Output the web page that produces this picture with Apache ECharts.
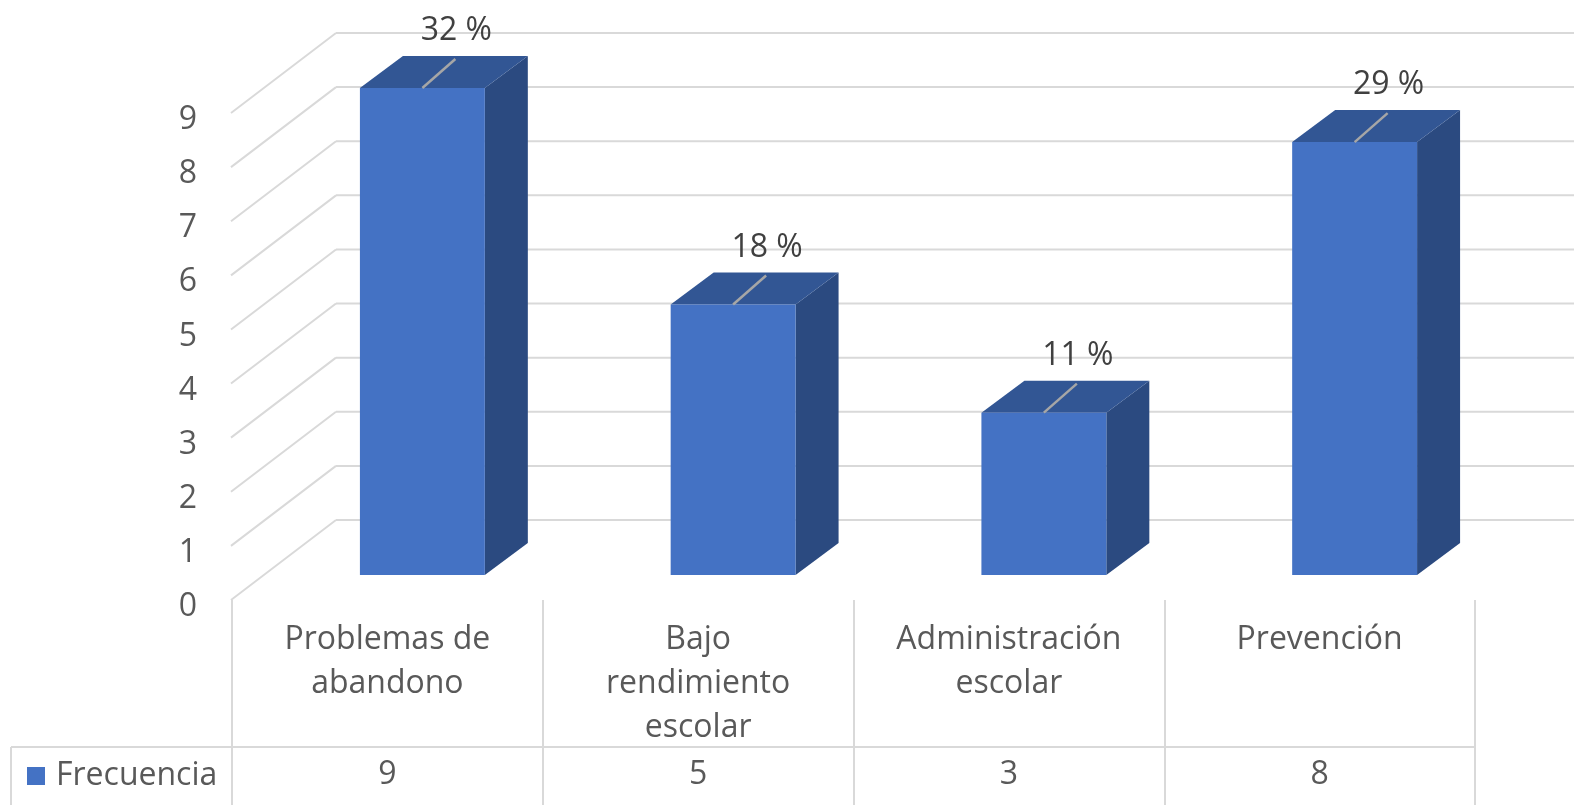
<!DOCTYPE html>
<html>
<head>
<meta charset="utf-8">
<script src="https://cdn.jsdelivr.net/npm/echarts@6/dist/echarts.min.js"></script>
<style>
  html, body { margin: 0; padding: 0; background: #fff; }
  #chart-box { width: 1574px; height: 805px; }
</style>
</head>
<body>
<div id="chart-box"></div>
<script>
const categories = ['Problemas de\nabandono', 'Bajo\nrendimiento\nescolar', 'Administración\nescolar', 'Prevención']
const frecuencia = [9, 5, 3, 8]
const porcentajes = ['32 %', '18 %', '11 %', '29 %']
const yTicks = [0, 1, 2, 3, 4, 5, 6, 7, 8, 9]

// perspective: floor depth (front edge -> back wall)
const DX = 105, DY = -80
// bar front plane offset and bar depth
const BAX = 35, BAY = -25
const BDX = 43, BDY = -32
const FONT = '"Open Sans"'
const FS = 32

const chart = echarts.init(document.getElementById('chart-box'))

function wallItem(params, api) {
    const p = api.coord([0, api.value(1)])
    const x0 = params.coordSys.x - 1
    const style = {stroke: '#D9D9D9', lineWidth: 2}
    return {
        type: 'group',
        children: [
            {type: 'line', shape: {x1: x0, y1: p[1], x2: x0 + DX, y2: p[1] + DY}, style: style},
            {type: 'line', shape: {x1: x0 + DX, y1: p[1] + DY, x2: 1574, y2: p[1] + DY}, style: style}
        ]
    }
}

function barItem(params, api) {
    const i = api.value(0)
    const top = api.coord([i, api.value(1)])
    const bot = api.coord([i, 0])
    const w = api.size([1, 0])[0] * 0.402
    const cx = top[0] + BAX
    const xl = cx - w / 2, xr = cx + w / 2
    const yt = top[1] + BAY, yb = bot[1] + BAY
    const lx2 = cx + 33, ly2 = yt - 29
    return {
        type: 'group',
        children: [
            {type: 'polygon', shape: {points: [[xr, yt], [xr + BDX, yt + BDY], [xr + BDX, yb + BDY], [xr, yb]]},
                style: {fill: '#2B4A80'}},
            {type: 'polygon', shape: {points: [[xl, yt], [xr, yt], [xr + BDX, yt + BDY], [xl + BDX, yt + BDY]]},
                style: {fill: '#325694'}},
            {type: 'rect', shape: {x: xl, y: yt, width: w, height: yb - yt}, style: {fill: '#4472C4'}},
            {type: 'line', shape: {x1: cx, y1: yt, x2: lx2, y2: ly2}, style: {stroke: '#A6A6A6', lineWidth: 2.5}},
            {type: 'text', x: lx2 + 1, y: ly2 - 28, style: {
                text: porcentajes[i], fill: '#404040', font: FS + 'px ' + FONT,
                align: 'center', verticalAlign: 'middle'}}
        ]
    }
}

function tableItem(params, api) {
    const p = api.coord([api.value(0), 0])
    return {
        type: 'text', x: p[0], y: 775,
        style: {text: String(api.value(1)), fill: '#595959', font: FS + 'px ' + FONT,
            align: 'center', verticalAlign: 'middle'}
    }
}

chart.setOption({
    animation: false,
    textStyle: {fontFamily: FONT},
    legend: {
        left: 27, top: 760, padding: 0,
        itemWidth: 18, itemHeight: 18, itemGap: 10,
        icon: 'rect',
        data: [{name: 'Frecuencia', itemStyle: {color: '#4472C4'}}],
        textStyle: {fontSize: FS, color: '#595959', fontFamily: FONT, padding: [0, 0, 0, 6]}
    },
    grid: {left: 232, right: 99, top: 113, bottom: 205},
    xAxis: {
        type: 'category',
        data: categories,
        axisLine: {show: false},
        axisTick: {show: true, length: 205, lineStyle: {color: '#D9D9D9', width: 2}},
        axisLabel: {interval: 0, margin: 18, fontSize: FS, lineHeight: 44, color: '#595959', fontFamily: FONT}
    },
    yAxis: {
        type: 'value',
        min: 0, max: 9, interval: 1,
        axisLine: {show: false},
        axisTick: {show: false},
        splitLine: {show: false},
        axisLabel: {margin: 35, fontSize: FS, color: '#595959', fontFamily: FONT,
            verticalAlign: 'top', lineHeight: 14}
    },
    graphic: [
        {type: 'line', shape: {x1: 11, y1: 747, x2: 1475, y2: 747}, style: {stroke: '#D9D9D9', lineWidth: 2}},
        {type: 'line', shape: {x1: 11, y1: 747, x2: 11, y2: 805}, style: {stroke: '#D9D9D9', lineWidth: 2}}
    ],
    series: [
        {
            type: 'custom', name: 'walls', silent: true, clip: false, z: 1,
            renderItem: wallItem,
            data: yTicks.map(v => [0, v])
        },
        {
            type: 'custom', name: 'Frecuencia', clip: false, z: 2,
            itemStyle: {color: '#4472C4'},
            renderItem: barItem,
            encode: {x: 0, y: 1},
            data: frecuencia.map((v, i) => [i, v])
        },
        {
            type: 'custom', name: 'tabla', silent: true, clip: false, z: 3,
            renderItem: tableItem,
            data: frecuencia.map((v, i) => [i, v])
        }
    ]
})
</script>
</body>
</html>
